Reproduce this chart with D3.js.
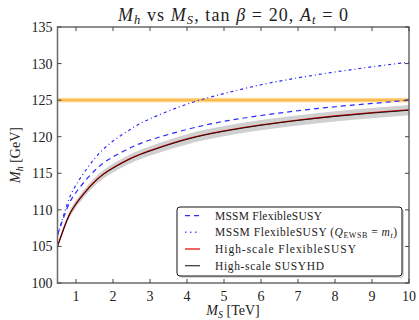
<!DOCTYPE html>
<html><head><meta charset="utf-8">
<script src="https://cdn.jsdelivr.net/npm/d3@7"></script>
<style>body{margin:0;background:#fff}svg{display:block}text{font-family:"Liberation Serif","DejaVu Serif",serif;fill:#222}</style>
</head><body><svg id="c" width="419" height="320"></svg>
<script>
const msValues = [0.5, 0.75, 1, 1.5, 2, 2.5, 3, 4, 5, 6, 7, 8, 9, 10];
const mssmFS    = [106.6, 110.1, 112.4, 115.35, 117.25, 118.55, 119.55, 121.0, 122.1, 122.9, 123.55, 124.1, 124.55, 125.0];
const mssmFSmt  = [106.5, 110.6, 113.4, 117.0, 119.4, 121.1, 122.45, 124.45, 125.9, 127.1, 128.05, 128.85, 129.55, 130.2];
const hsFS      = [105.05, 108.55, 110.85, 113.85, 115.75, 117.1, 118.1, 119.7, 120.8, 121.62, 122.28, 122.83, 123.28, 123.67];
const hsSUSYHD  = [105.0, 108.5, 110.8, 113.8, 115.7, 117.05, 118.05, 119.65, 120.75, 121.57, 122.23, 122.78, 123.23, 123.62];
const bandHalf  = [0.25, 0.4, 0.5, 0.55, 0.6, 0.62, 0.65, 0.7, 0.7, 0.7, 0.7, 0.7, 0.7, 0.7];
const expMh = 125.0, expErr = 0.3;
const xTicks = [1,2,3,4,5,6,7,8,9,10];
const yTicks = [100,105,110,115,120,125,130,135];

const svg = d3.select("#c");
const L=57.5, R=409, T=27, B=283;
const x = d3.scaleLinear().domain([0.5,10]).range([L,R]);
const y = d3.scaleLinear().domain([100,135]).range([B,T]);
const pts = a => msValues.map((m,i)=>[m,a[i]]);
const line = d3.line().x(d=>x(d[0])).y(d=>y(d[1])).curve(d3.curveNatural);

svg.append("clipPath").attr("id","pc").append("rect").attr("x",L).attr("y",T).attr("width",R-L).attr("height",B-T);
const g = svg.append("g").attr("clip-path","url(#pc)");

// theory uncertainty band
g.append("path").datum(msValues.map((m,i)=>({m,lo:hsSUSYHD[i]-bandHalf[i],hi:hsSUSYHD[i]+bandHalf[i]})))
 .attr("d", d3.area().x(d=>x(d.m)).y0(d=>y(d.lo)).y1(d=>y(d.hi)).curve(d3.curveNatural))
 .attr("fill","#d0d0d0");
// experimental band
g.append("rect").attr("x",L).attr("width",R-L).attr("y",y(expMh+expErr)).attr("height",y(expMh-expErr)-y(expMh+expErr)).attr("fill","#fdd68c");
g.append("line").attr("x1",L).attr("x2",R).attr("y1",y(expMh)).attr("y2",y(expMh)).attr("stroke","#f8ac30").attr("stroke-width",1.3);

g.append("path").attr("d",line(pts(mssmFS))).attr("fill","none").attr("stroke","#2a2aff").attr("stroke-width",1.2).attr("stroke-dasharray","5,4");
g.append("path").attr("d",line(pts(mssmFSmt))).attr("fill","none").attr("stroke","#2a2aff").attr("stroke-width",1.2).attr("stroke-dasharray","3,3,1,3");
g.append("path").attr("d",line(pts(hsFS))).attr("fill","none").attr("stroke","#e00000").attr("stroke-width",1.3);
g.append("path").attr("d",line(pts(hsSUSYHD))).attr("fill","none").attr("stroke","#111").attr("stroke-width",0.9);

// frame and ticks
const ax = svg.append("g");
ax.append("rect").attr("x",L).attr("y",T).attr("width",R-L).attr("height",B-T).attr("fill","none").attr("stroke","#6a6a6a").attr("stroke-width",1.5);
const tl=4;
xTicks.forEach(t=>{
  ax.append("line").attr("x1",x(t)).attr("x2",x(t)).attr("y1",B).attr("y2",B-tl).attr("stroke","#444");
  ax.append("line").attr("x1",x(t)).attr("x2",x(t)).attr("y1",T).attr("y2",T+tl).attr("stroke","#444");
  ax.append("text").attr("x",x(t)).attr("y",B+18).attr("text-anchor","middle").attr("font-size",14).text(t);
});
yTicks.forEach(t=>{
  ax.append("line").attr("x1",L).attr("x2",L+tl).attr("y1",y(t)).attr("y2",y(t)).attr("stroke","#444");
  ax.append("line").attr("x1",R).attr("x2",R-tl).attr("y1",y(t)).attr("y2",y(t)).attr("stroke","#444");
  ax.append("text").attr("x",L-5).attr("y",y(t)+5).attr("text-anchor","end").attr("font-size",14).text(t);
});

// title
const title = svg.append("text").attr("x",233).attr("y",21).attr("text-anchor","middle").attr("font-size",18)
  .attr("textLength",230).attr("lengthAdjust","spacing");
title.append("tspan").attr("font-style","italic").text("M");
title.append("tspan").attr("font-style","italic").attr("font-size",12.5).attr("dy",3).text("h");
title.append("tspan").attr("dy",-3).text(" vs ");
title.append("tspan").attr("font-style","italic").text("M");
title.append("tspan").attr("font-style","italic").attr("font-size",12.5).attr("dy",3).text("S");
title.append("tspan").attr("dy",-3).text(", tan ");
title.append("tspan").attr("font-style","italic").text("β");
title.append("tspan").text(" = 20, ");
title.append("tspan").attr("font-style","italic").text("A");
title.append("tspan").attr("font-style","italic").attr("font-size",12.5).attr("dy",3).text("t");
title.append("tspan").attr("dy",-3).text(" = 0");

// axis labels
const xl = svg.append("text").attr("x",233).attr("y",315).attr("text-anchor","middle").attr("font-size",14);
xl.append("tspan").attr("font-style","italic").text("M");
xl.append("tspan").attr("font-style","italic").attr("font-size",10).attr("dy",3).text("S");
xl.append("tspan").attr("dy",-3).text(" [TeV]");
const yl = svg.append("text").attr("transform","translate(20,155) rotate(-90)").attr("text-anchor","middle").attr("font-size",14);
yl.append("tspan").attr("font-style","italic").text("M");
yl.append("tspan").attr("font-style","italic").attr("font-size",10).attr("dy",3).text("h");
yl.append("tspan").attr("dy",-3).text(" [GeV]");

// legend
const lg = svg.append("g");
lg.append("rect").attr("x",179).attr("y",209).attr("width",225).attr("height",69).attr("rx",3).attr("fill","#bbb").attr("opacity",0.6);
lg.append("rect").attr("x",177).attr("y",207).attr("width",225).attr("height",69).attr("rx",3).attr("fill","#fff").attr("stroke","#111").attr("stroke-width",1);
const entries = [
  {label:"MSSM FlexibleSUSY", stroke:"#2a2aff", dash:"5,4", w:1.2, len:107},
  {label:"MSSM FlexibleSUSY", extra:true, stroke:"#5a5aff", dash:"1.5,3.5", w:1.5, len:182},
  {label:"High-scale FlexibleSUSY", stroke:"#e00000", dash:null, w:1.2, len:141},
  {label:"High-scale SUSYHD", stroke:"#333", dash:null, w:1.2, len:109}
];
const rowY=[215.7,232.3,249,265.7];
entries.forEach((e,i)=>{
  lg.append("line").attr("x1",185).attr("x2",200).attr("y1",rowY[i]).attr("y2",rowY[i]).attr("stroke",e.stroke).attr("stroke-width",e.w).attr("stroke-dasharray",e.dash);
  const t = lg.append("text").attr("x",215).attr("y",rowY[i]+4).attr("font-size",11.5)
     .attr("textLength",e.len).attr("lengthAdjust","spacing");
  t.append("tspan").text(e.label);
  if(e.extra){
    t.append("tspan").text(" (");
    t.append("tspan").attr("font-style","italic").text("Q");
    t.append("tspan").attr("font-size",8).attr("dy",2).text("EWSB");
    t.append("tspan").attr("dy",-2).text(" = ");
    t.append("tspan").attr("font-style","italic").text("m");
    t.append("tspan").attr("font-style","italic").attr("font-size",8).attr("dy",2).text("t");
    t.append("tspan").attr("dy",-2).text(")");
  }
});
</script></body></html>
